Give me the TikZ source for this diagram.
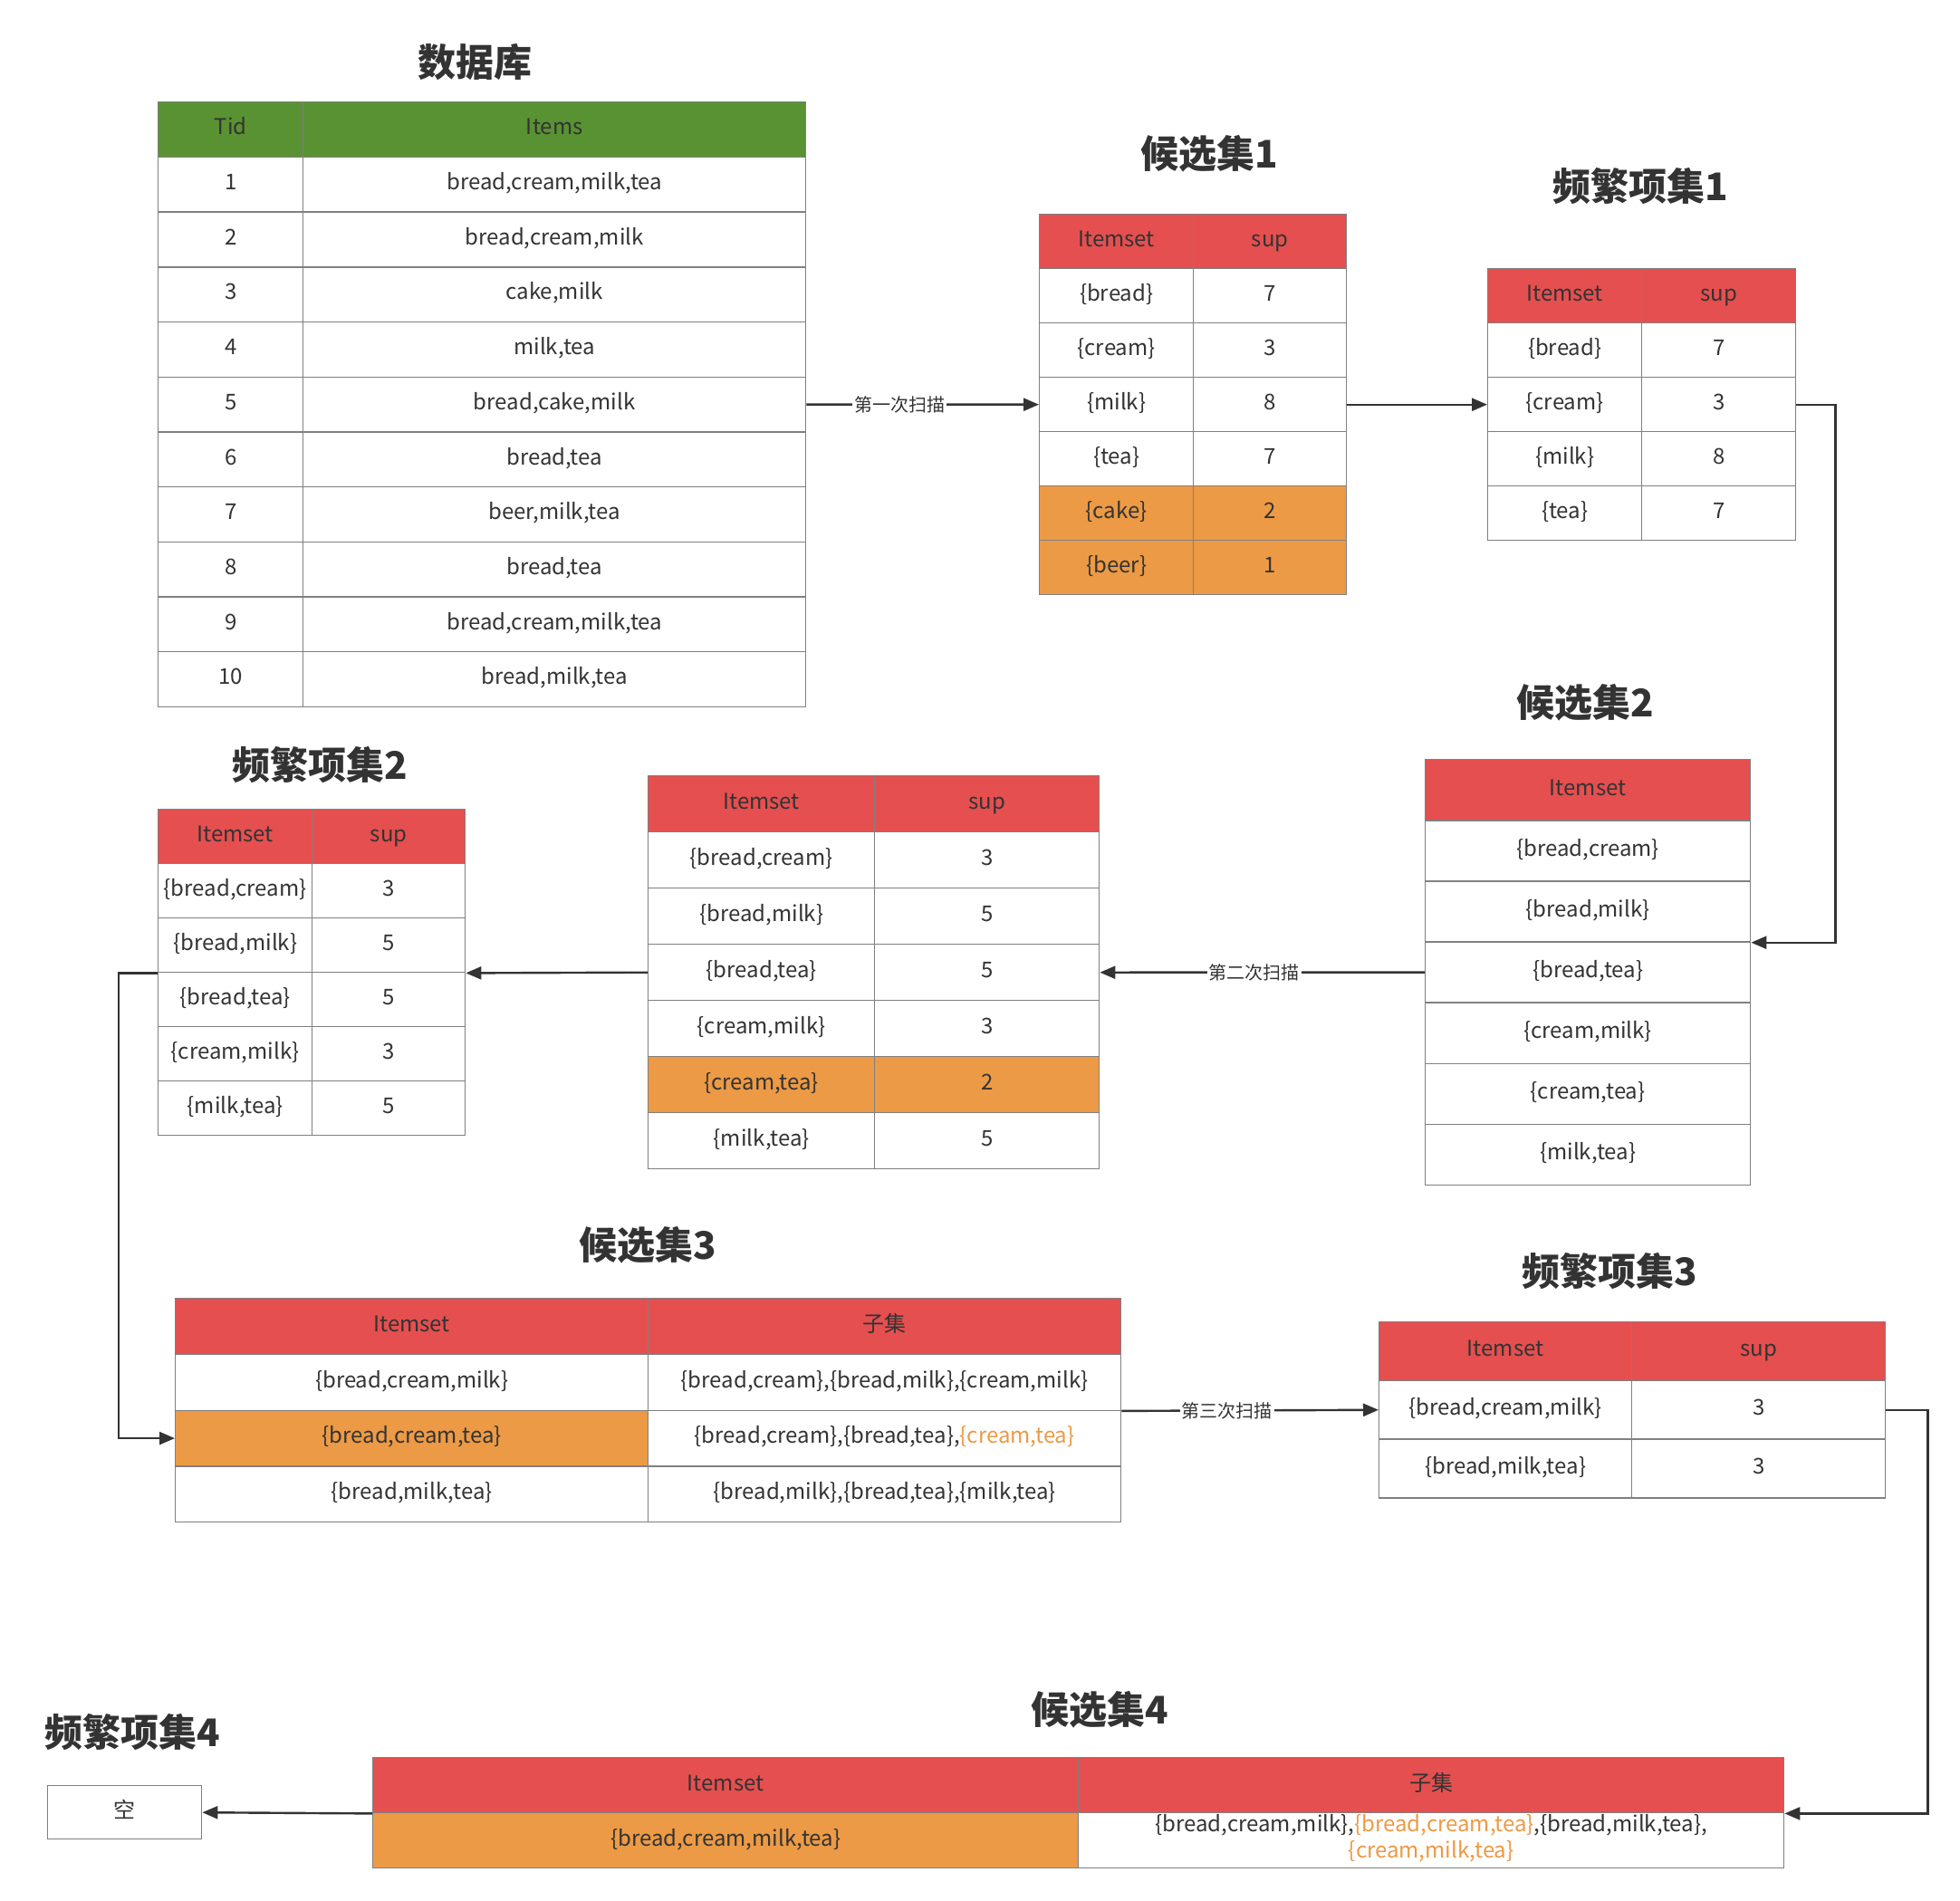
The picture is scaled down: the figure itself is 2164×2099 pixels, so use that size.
\documentclass[tikz,border=0pt]{standalone}
\usepackage{fontspec}
\setmainfont{Noto Sans CJK SC}
\usepackage{xcolor}
\usetikzlibrary{arrows.meta}
\definecolor{dbgreen}{HTML}{599232}
\definecolor{hdred}{HTML}{E54F4F}
\definecolor{droporange}{HTML}{EC9A45}
\definecolor{textgray}{HTML}{333333}
\definecolor{linegray}{HTML}{808080}
\tikzset{
  sz/.style 2 args={minimum width=#1*0.5pt, minimum height=#2*0.5pt},
  cell/.style={draw=linegray, line width=0.7pt, fill=white, text=textgray,
    inner sep=0pt, anchor=north west, font=\fontsize{12}{14.5}\selectfont,
    execute at begin node=\strut},
  hdr/.style={cell, fill=hdred},
  tabtitle/.style={text=textgray, font=\fontsize{21}{25}\selectfont\bfseries},
  flow/.style={draw=textgray, line width=1.2pt, -{Triangle[length=8.5pt,width=7pt]}},
  scanlabel/.style={fill=white, text=textgray, inner sep=1pt, font=\fontsize{10}{12}\selectfont}
}

\begin{document}
\begin{tikzpicture}[x=0.5pt,y=-0.5pt]
  \fill[white] (0,0) rectangle (2164,2099);
  \useasboundingbox (0,0) rectangle (2164,2099);

  % database
  \node[tabtitle] (t-db) at (524,69) {数据库};
  \node[cell, fill=dbgreen, sz={160}{60.7}] (db-0-1) at (174,112) {Tid};
  \node[cell, fill=dbgreen, sz={555}{60.7}] (db-0-2) at (334,112) {Items};
  \foreach \i/\its in {1/{bread,cream,milk,tea},2/{bread,cream,milk},3/{cake,milk},
      4/{milk,tea},5/{bread,cake,milk},6/{bread,tea},7/{beer,milk,tea},8/{bread,tea},
      9/{bread,cream,milk,tea},10/{bread,milk,tea}}{
    \node[cell, sz={160}{60.7}] (db-\i-1) at (174,{112+\i*60.7}) {\i};
    \node[cell, sz={555}{60.7}] (db-\i-2) at (334,{112+\i*60.7}) {\its};
  }

  % candidate set 1
  \node[tabtitle] (t-c1) at (1335,170) {候选集1};
  \node[hdr, sz={170}{60}] (c1-0-1) at (1147,236) {Itemset};
  \node[hdr, sz={169}{60}] (c1-0-2) at (1317,236) {sup};
  \foreach \i/\s/\n/\fc in {1/bread/7/white,2/cream/3/white,3/milk/8/white,
      4/tea/7/white,5/cake/2/droporange,6/beer/1/droporange}{
    \node[cell, fill=\fc, sz={170}{60}] (c1-\i-1) at (1147,{236+\i*60}) {\{\s\}};
    \node[cell, fill=\fc, sz={169}{60}] (c1-\i-2) at (1317,{236+\i*60}) {\n};
  }

  % frequent set 1
  \node[tabtitle] (t-l1) at (1811,206) {频繁项集1};
  \node[hdr, sz={170}{60}] (l1-0-1) at (1642,296) {Itemset};
  \node[hdr, sz={170}{60}] (l1-0-2) at (1812,296) {sup};
  \foreach \i/\s/\n in {1/bread/7,2/cream/3,3/milk/8,4/tea/7}{
    \node[cell, sz={170}{60}] (l1-\i-1) at (1642,{296+\i*60}) {\{\s\}};
    \node[cell, sz={170}{60}] (l1-\i-2) at (1812,{296+\i*60}) {\n};
  }

  % candidate set 2
  \node[tabtitle] (t-c2) at (1750,776) {候选集2};
  \node[hdr, sz={359}{67.1}] (c2-0-1) at (1573,838) {Itemset};
  \foreach \i/\s in {1/{bread,cream},2/{bread,milk},3/{bread,tea},4/{cream,milk},
      5/{cream,tea},6/{milk,tea}}{
    \node[cell, sz={359}{67.1}] (c2-\i-1) at (1573,{838+\i*67.1}) {\{\s\}};
  }

  % candidate set 2 with support
  \node[hdr, sz={250}{62}] (m-0-1) at (715,856) {Itemset};
  \node[hdr, sz={248}{62}] (m-0-2) at (965,856) {sup};
  \foreach \i/\s/\n/\fc in {1/{bread,cream}/3/white,2/{bread,milk}/5/white,
      3/{bread,tea}/5/white,4/{cream,milk}/3/white,5/{cream,tea}/2/droporange,
      6/{milk,tea}/5/white}{
    \node[cell, fill=\fc, sz={250}{62}] (m-\i-1) at (715,{856+\i*62}) {\{\s\}};
    \node[cell, fill=\fc, sz={248}{62}] (m-\i-2) at (965,{856+\i*62}) {\n};
  }

  % frequent set 2
  \node[tabtitle] (t-l2) at (353,845) {频繁项集2};
  \node[hdr, sz={170}{60}] (l2-0-1) at (174,893) {Itemset};
  \node[hdr, sz={169}{60}] (l2-0-2) at (344,893) {sup};
  \foreach \i/\s/\n in {1/{bread,cream}/3,2/{bread,milk}/5,3/{bread,tea}/5,
      4/{cream,milk}/3,5/{milk,tea}/5}{
    \node[cell, sz={170}{60}] (l2-\i-1) at (174,{893+\i*60}) {\{\s\}};
    \node[cell, sz={169}{60}] (l2-\i-2) at (344,{893+\i*60}) {\n};
  }

  % candidate set 3
  \node[tabtitle] (t-c3) at (715,1375) {候选集3};
  \node[hdr, sz={522}{61.75}] (c3-0-1) at (193,1433) {Itemset};
  \node[hdr, sz={522}{61.75}] (c3-0-2) at (715,1433) {子集};
  \node[cell, sz={522}{61.75}] (c3-1-1) at (193,1494.75) {\{bread,cream,milk\}};
  \node[cell, sz={522}{61.75}] (c3-1-2) at (715,1494.75) {\{bread,cream\},\{bread,milk\},\{cream,milk\}};
  \node[cell, fill=droporange, sz={522}{61.75}] (c3-2-1) at (193,1556.5) {\{bread,cream,tea\}};
  \node[cell, sz={522}{61.75}] (c3-2-2) at (715,1556.5)
    {\{bread,cream\},\{bread,tea\},\textcolor{droporange}{\{cream,tea\}}};
  \node[cell, sz={522}{61.75}] (c3-3-1) at (193,1618.25) {\{bread,milk,tea\}};
  \node[cell, sz={522}{61.75}] (c3-3-2) at (715,1618.25) {\{bread,milk\},\{bread,tea\},\{milk,tea\}};

  % frequent set 3
  \node[tabtitle] (t-l3) at (1777,1404) {频繁项集3};
  \node[hdr, sz={279}{64.7}] (l3-0-1) at (1522,1459) {Itemset};
  \node[hdr, sz={280}{64.7}] (l3-0-2) at (1801,1459) {sup};
  \foreach \i/\s/\n in {1/{bread,cream,milk}/3,2/{bread,milk,tea}/3}{
    \node[cell, sz={279}{64.7}] (l3-\i-1) at (1522,{1459+\i*64.7}) {\{\s\}};
    \node[cell, sz={280}{64.7}] (l3-\i-2) at (1801,{1459+\i*64.7}) {\n};
  }

  % candidate set 4
  \node[tabtitle] (t-c4) at (1214,1888) {候选集4};
  \node[hdr, sz={779}{61}] (c4-0-1) at (411,1940) {Itemset};
  \node[hdr, sz={779}{61}] (c4-0-2) at (1190,1940) {子集};
  \node[cell, fill=droporange, sz={779}{61}] (c4-1-1) at (411,2001) {\{bread,cream,milk,tea\}};
  \node[cell, sz={779}{61}, align=center] (c4-1-2) at (1190,2001)
    {\{bread,cream,milk\},\textcolor{droporange}{\{bread,cream,tea\}},\{bread,milk,tea\},\\
     \textcolor{droporange}{\{cream,milk,tea\}}};

  % frequent set 4
  \node[tabtitle] (t-l4) at (146,1913) {频繁项集4};
  \node[cell, sz={170}{59}] (l4) at (52,1971) {空};

  % scans and joins
  \draw[flow] (db-5-2.east) -- node[scanlabel, pos=0.4] {第一次扫描} (c1-3-1.west);
  \draw[flow] (c1-3-2.east) -- (l1-2-1.west);
  \draw[flow] (l1-2-2.east) -- ++(43,0) |- (c2-2-1.south east);
  \draw[flow] (c2-3-1.west) -- node[scanlabel, pos=0.525] {第二次扫描} (m-3-2.east);
  \draw[flow] (m-3-1.west) -- (l2-2-2.south east);
  \draw[flow] (l2-2-1.south west) -- ++(-43,0) |- (c3-2-1.west);
  \draw[flow] (c3-1-2.south east) -- node[scanlabel, pos=0.41] {第三次扫描} (l3-1-1.west);
  \draw[flow] (l3-1-2.east) -- ++(46,0) |- (c4-0-2.south east);
  \draw[flow] (c4-0-1.south west) -- (l4.east);
\end{tikzpicture}
\end{document}
